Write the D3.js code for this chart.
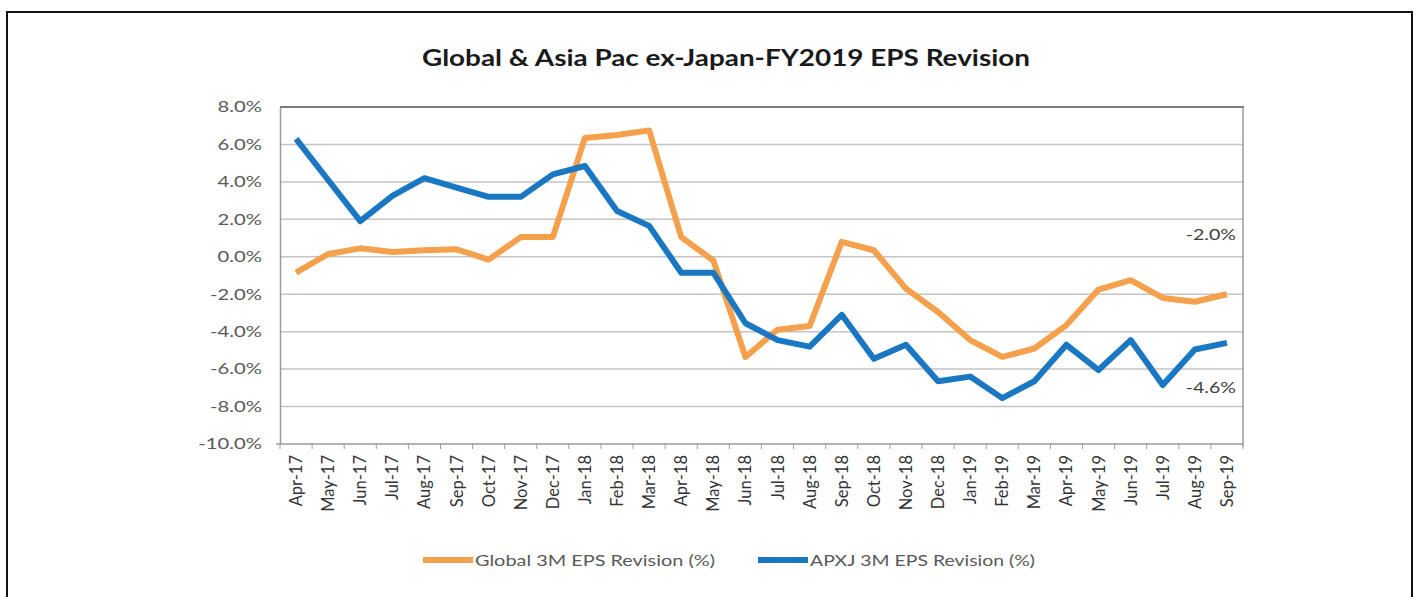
<html>
<head>
<style>
    body { margin: 0; background: #fff; }
    text { font-family: Lato, "Open Sans", sans-serif; }
</style>
</head>
<body>
    <script src="https://d3js.org/d3.v7.min.js"></script>
    <div id="my_dataviz"></div>

    <script>
        var months = ["Apr-17", "May-17", "Jun-17", "Jul-17", "Aug-17", "Sep-17", "Oct-17", "Nov-17", "Dec-17",
            "Jan-18", "Feb-18", "Mar-18", "Apr-18", "May-18", "Jun-18", "Jul-18", "Aug-18", "Sep-18", "Oct-18",
            "Nov-18", "Dec-18", "Jan-19", "Feb-19", "Mar-19", "Apr-19", "May-19", "Jun-19", "Jul-19", "Aug-19", "Sep-19"];

        var globalEps = [-0.85, 0.15, 0.45, 0.25, 0.35, 0.4, -0.15, 1.05, 1.05,
            6.35, 6.5, 6.75, 1.05, -0.2, -5.35, -3.9, -3.7, 0.8, 0.35,
            -1.7, -2.95, -4.45, -5.35, -4.9, -3.65, -1.75, -1.25, -2.2, -2.4, -2.0];

        var apxjEps = [6.3, 4.1, 1.9, 3.25, 4.2, 3.7, 3.2, 3.2, 4.4,
            4.85, 2.45, 1.65, -0.85, -0.85, -3.55, -4.45, -4.8, -3.1, -5.45,
            -4.7, -6.65, -6.4, -7.55, -6.65, -4.7, -6.05, -4.45, -6.85, -4.95, -4.6];

        var yTicks = [-10, -8, -6, -4, -2, 0, 2, 4, 6, 8];

        var seriesNames = ["Global 3M EPS Revision (%)", "APXJ 3M EPS Revision (%)"];
        var seriesColors = ["#f5a04c", "#1a78c2"];

        var W = 1417, H = 597;
        var plotLeft = 280, plotRight = 1243, plotTop = 107, plotBottom = 444;
        var stretch = 1.35;   // the picture's text is wider than it is tall

        var svg = d3.select("#my_dataviz")
            .append("svg")
            .attr("width", W)
            .attr("height", H);

        // outer frame
        svg.append("rect")
            .attr("x", 7).attr("y", 12)
            .attr("width", 1405).attr("height", 600)
            .attr("fill", "#fff")
            .attr("stroke", "#111")
            .attr("stroke-width", 2);

        svg.append("text")
            .attr("x", 422).attr("y", 66)
            .attr("textLength", 608)
            .attr("lengthAdjust", "spacingAndGlyphs")
            .style("font-size", "23px")
            .style("font-weight", "bold")
            .attr("fill", "#1a1a1a")
            .text("Global & Asia Pac ex-Japan-FY2019 EPS Revision");

        var x = d3.scalePoint()
            .domain(months)
            .range([plotLeft, plotRight])
            .padding(0.5);

        var y = d3.scaleLinear()
            .domain([-10, 8])
            .range([plotBottom, plotTop]);

        // gridlines
        svg.append("g")
            .selectAll("line")
            .data(yTicks.filter(function (d) { return d > -10 && d < 8; }))
            .enter()
            .append("line")
            .attr("x1", plotLeft).attr("x2", plotRight)
            .attr("y1", function (d) { return y(d); })
            .attr("y2", function (d) { return y(d); })
            .attr("stroke", "#c4c4c4")
            .attr("stroke-width", 1.5);

        // top and right border
        svg.append("line")
            .attr("x1", plotLeft).attr("x2", plotRight + 1)
            .attr("y1", y(8)).attr("y2", y(8))
            .attr("stroke", "#7a7a7a").attr("stroke-width", 2);
        svg.append("line")
            .attr("x1", plotRight).attr("x2", plotRight)
            .attr("y1", y(8)).attr("y2", plotBottom + 2)
            .attr("stroke", "#9a9a9a").attr("stroke-width", 1.5);

        // y axis
        var yAxis = svg.append("g")
            .attr("transform", "translate(" + plotLeft + ",0)")
            .call(d3.axisLeft(y).tickValues(yTicks).tickSize(0).tickPadding(18)
                .tickFormat(function (d) { return d.toFixed(1) + "%"; }));
        yAxis.select(".domain").attr("stroke", "#9a9a9a").attr("stroke-width", 1.5);
        yAxis.selectAll(".tick text")
            .attr("x", null)
            .attr("transform", "translate(-18,0) scale(" + stretch + ",1)")
            .style("font-size", "15px")
            .attr("fill", "#595959");

        // x axis with ticks between categories
        var bounds = d3.range(months.length + 1).map(function (i) { return plotLeft + i * x.step(); });
        svg.append("line")
            .attr("x1", plotLeft - 4).attr("x2", plotRight)
            .attr("y1", plotBottom).attr("y2", plotBottom)
            .attr("stroke", "#9a9a9a").attr("stroke-width", 1.5);
        svg.append("g")
            .selectAll("line")
            .data(bounds)
            .enter()
            .append("line")
            .attr("x1", function (d) { return d; }).attr("x2", function (d) { return d; })
            .attr("y1", plotBottom).attr("y2", plotBottom + 5)
            .attr("stroke", "#9a9a9a").attr("stroke-width", 1);

        svg.append("g")
            .selectAll("text")
            .data(months)
            .enter()
            .append("text")
            .attr("transform", function (d) { return "translate(" + (x(d) + 6) + "," + (plotBottom + 11) + ") rotate(-90)"; })
            .attr("text-anchor", "end")
            .style("font-size", "16.5px")
            .attr("fill", "#333")
            .text(function (d) { return d; });

        // lines
        var line = d3.line()
            .x(function (d, i) { return x(months[i]); })
            .y(function (d) { return y(d); });

        [globalEps, apxjEps].forEach(function (data, k) {
            svg.append("path")
                .datum(data)
                .attr("fill", "none")
                .attr("stroke", seriesColors[k])
                .attr("stroke-width", 6)
                .attr("stroke-linejoin", "round")
                .attr("d", line);
        });

        // end labels
        var endLabels = [
            { v: globalEps[globalEps.length - 1], at: 0.9 },
            { v: apxjEps[apxjEps.length - 1], at: -7.3 }
        ];
        endLabels.forEach(function (d) {
            svg.append("text")
                .attr("transform", "translate(" + (x("Sep-19") + 9) + "," + y(d.at) + ") scale(" + stretch + ",1)")
                .attr("text-anchor", "end")
                .style("font-size", "14.5px")
                .attr("fill", "#404040")
                .text(d.v.toFixed(1) + "%");
        });

        // legend
        var legendX = [423, 758];
        var legendW = [240, 225];
        seriesNames.forEach(function (name, k) {
            svg.append("line")
                .attr("x1", legendX[k]).attr("x2", legendX[k] + 50)
                .attr("y1", 560).attr("y2", 560)
                .attr("stroke", seriesColors[k])
                .attr("stroke-width", 6);
            svg.append("text")
                .attr("x", legendX[k] + 52).attr("y", 566)
                .attr("textLength", legendW[k])
                .attr("lengthAdjust", "spacingAndGlyphs")
                .style("font-size", "16px")
                .attr("fill", "#595959")
                .text(name);
        });
    </script>
</body>
</html>
